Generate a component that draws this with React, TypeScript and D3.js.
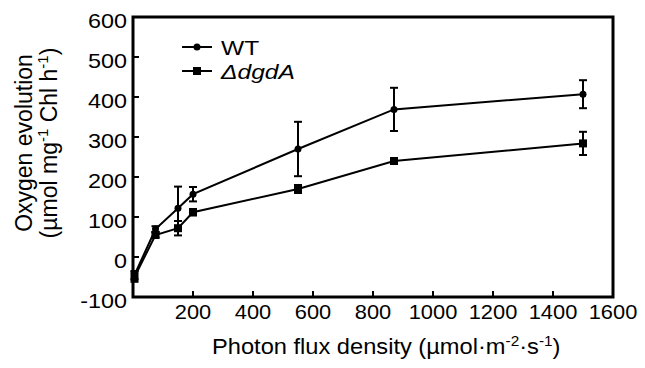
import React, { useRef, useEffect } from "react";
import * as d3 from "d3";

const fontFamily = "Arial, 'Liberation Sans', Helvetica, sans-serif";

// light intensities (µmol m-2 s-1)
const lightLevels = [5, 75, 150, 200, 550, 870, 1500];
// WT oxygen evolution
const wtMean = [-45, 70, 122, 157, 270, 369, 407];
const wtErr = [10, 7, 54, 18, 68, 54, 35];
// ΔdgdA oxygen evolution
const dgdMean = [-50, 55, 72, 112, 170, 240, 284];
const dgdErr = [12, 6, 18, 8, 10, 6, 29];

const xTicks = [200, 400, 600, 800, 1000, 1200, 1400, 1600];
const yTicks = [-100, 0, 100, 200, 300, 400, 500, 600];

// the original text is a bit wider than plain Arial
const stretch = 1.17;

export default function App() {
  const ref = useRef<SVGSVGElement>(null);

  useEffect(() => {
    const width = 645;
    const height = 368;
    const margin = { top: 17, right: 32, bottom: 71, left: 133 };

    const svg = d3.select(ref.current);
    svg.selectAll("*").remove();
    svg.style("font-family", fontFamily);

    const x = d3.scaleLinear().domain([0, 1600]).range([margin.left, width - margin.right]);
    const y = d3.scaleLinear().domain([-100, 600]).range([height - margin.bottom, margin.top]);

    const x0 = x.range()[0];
    const x1 = x.range()[1];
    const y0 = y.range()[0];
    const y1 = y.range()[1];

    // text placed at (px,py), widened horizontally
    const wideText = (parent: any, px: number, py: number, size: number, sx: number) =>
      parent.append("text")
        .attr("transform", `translate(${px},${py}) scale(${sx},1)`)
        .attr("font-size", size)
        .attr("fill", "#000");

    // ticks (inside)
    svg.append("g")
      .selectAll("line")
      .data(xTicks)
      .join("line")
      .attr("x1", d => x(d)).attr("x2", d => x(d))
      .attr("y1", y0).attr("y2", y0 - 6)
      .attr("stroke", "#000").attr("stroke-width", 2);

    svg.append("g")
      .selectAll("line")
      .data(yTicks)
      .join("line")
      .attr("x1", x0).attr("x2", x0 + 6)
      .attr("y1", d => y(d)).attr("y2", d => y(d))
      .attr("stroke", "#000").attr("stroke-width", 2);

    // frame
    svg.append("rect")
      .attr("x", x0).attr("y", y1)
      .attr("width", x1 - x0).attr("height", y0 - y1)
      .attr("fill", "none").attr("stroke", "#000").attr("stroke-width", 3);

    // tick labels
    xTicks.forEach(t => {
      wideText(svg, x(t), y0 + 22, 19.5, 1.12)
        .attr("text-anchor", "middle")
        .text(t);
    });
    yTicks.forEach(t => {
      wideText(svg, x0 - 6, y(t) + 11, 20, stretch)
        .attr("text-anchor", "end")
        .text(t);
    });

    // x title
    const xt = wideText(svg, 212, 354, 21.5, 1.1);
    xt.append("tspan").text("Photon flux density (µmol·m");
    xt.append("tspan").attr("dy", -8).attr("font-size", 14).text("-2");
    xt.append("tspan").attr("dy", 8).text("·s");
    xt.append("tspan").attr("dy", -8).attr("font-size", 14).text("-1");
    xt.append("tspan").attr("dy", 8).text(")");

    // y title (two lines)
    const yt = svg.append("g").attr("transform", "translate(0,143) rotate(-90)");
    yt.append("text")
      .attr("x", 0).attr("y", 31.5)
      .attr("text-anchor", "middle")
      .attr("font-size", 23)
      .text("Oxygen evolution");
    const yt2 = yt.append("text")
      .attr("x", 0).attr("y", 57)
      .attr("text-anchor", "middle")
      .attr("font-size", 23);
    yt2.append("tspan").text("(µmol mg");
    yt2.append("tspan").attr("dy", -9).attr("font-size", 15).text("-1");
    yt2.append("tspan").attr("dy", 9).text(" Chl h");
    yt2.append("tspan").attr("dy", -9).attr("font-size", 15).text("-1");
    yt2.append("tspan").attr("dy", 9).text(")");

    const series = [
      { mean: wtMean, err: wtErr, marker: "circle" },
      { mean: dgdMean, err: dgdErr, marker: "square" }
    ];

    const line = d3.line<number>()
      .x((d, i) => x(lightLevels[i]))
      .y(d => y(d));

    series.forEach(s => {
      const g = svg.append("g");
      g.append("path")
        .attr("d", line(s.mean))
        .attr("fill", "none")
        .attr("stroke", "#000")
        .attr("stroke-width", 2);

      // error bars
      const eb = g.append("g").attr("stroke", "#000").attr("stroke-width", 2);
      s.mean.forEach((m, i) => {
        const cx = x(lightLevels[i]);
        const top = y(m + s.err[i]);
        const bot = y(m - s.err[i]);
        eb.append("line").attr("x1", cx).attr("x2", cx).attr("y1", top).attr("y2", bot);
        eb.append("line").attr("x1", cx - 4).attr("x2", cx + 4).attr("y1", top).attr("y2", top);
        eb.append("line").attr("x1", cx - 4).attr("x2", cx + 4).attr("y1", bot).attr("y2", bot);
      });

      if (s.marker === "circle") {
        g.selectAll("circle")
          .data(s.mean)
          .join("circle")
          .attr("cx", (d, i) => x(lightLevels[i]))
          .attr("cy", d => y(d))
          .attr("r", 3.5)
          .attr("fill", "#000");
      } else {
        g.selectAll("rect")
          .data(s.mean)
          .join("rect")
          .attr("x", (d, i) => x(lightLevels[i]) - 4)
          .attr("y", d => y(d) - 4)
          .attr("width", 8)
          .attr("height", 8)
          .attr("fill", "#000");
      }
    });

    // legend
    const lg = svg.append("g");
    lg.append("line").attr("x1", 182).attr("x2", 212).attr("y1", 47).attr("y2", 47)
      .attr("stroke", "#000").attr("stroke-width", 2);
    lg.append("circle").attr("cx", 197).attr("cy", 47).attr("r", 3.5).attr("fill", "#000");
    wideText(lg, 221, 55, 21, stretch).text("WT");

    lg.append("line").attr("x1", 182).attr("x2", 212).attr("y1", 71).attr("y2", 71)
      .attr("stroke", "#000").attr("stroke-width", 2);
    lg.append("rect").attr("x", 193).attr("y", 67).attr("width", 8).attr("height", 8).attr("fill", "#000");
    wideText(lg, 221, 79, 21, stretch).attr("font-style", "italic").text("ΔdgdA");
  }, []);

  return (
    <svg
      ref={ref}
      width={645}
      height={368}
      style={{ position: "absolute", left: 0, top: 0, background: "#fff" }}
    />
  );
}
